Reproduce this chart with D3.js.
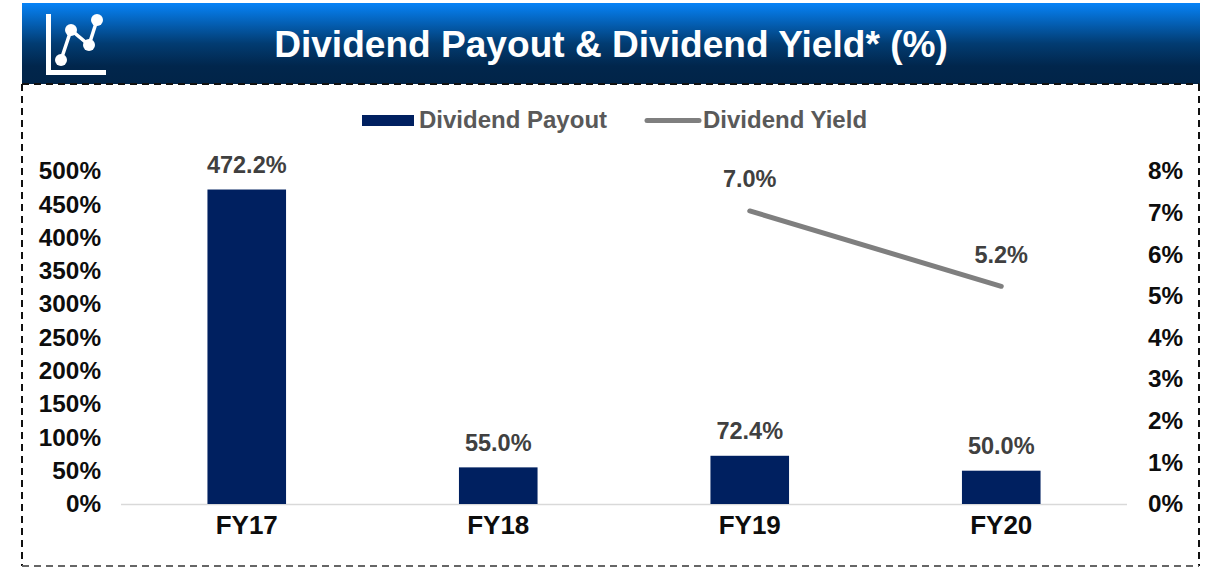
<!DOCTYPE html>
<html><head><meta charset="utf-8">
<script src="https://cdn.jsdelivr.net/npm/d3@7/dist/d3.min.js"></script>
<style>html,body{margin:0;padding:0;background:#fff}svg{display:block}text{font-family:"Liberation Sans",Arial,sans-serif;font-weight:700}</style>
</head><body><svg id="c" width="1207" height="567"></svg>
<script>
const title = "Dividend Payout & Dividend Yield* (%)";
const categories = ["FY17","FY18","FY19","FY20"];
const payout = [472.2,55.0,72.4,50.0];
const yieldVals = [null,null,7.04,5.23];
const leftTicks = [0,50,100,150,200,250,300,350,400,450,500];
const rightTicks = [0,1,2,3,4,5,6,7,8];
const iconPts = [[61,60],[71,30],[89,45],[97,20]];

const svg = d3.select("#c");
const defs = svg.append("defs");
const g = defs.append("linearGradient").attr("id","hdr").attr("x1",0).attr("x2",0).attr("y1",0).attr("y2",1);
[[0,"#0683f7"],[0.5,"#023c72"],[0.78,"#01264c"],[1,"#012448"]].forEach(s=>g.append("stop").attr("offset",s[0]).attr("stop-color",s[1]));

svg.append("rect").attr("x",22).attr("y",3).attr("width",1178).attr("height",81).attr("fill","url(#hdr)");
svg.append("text").attr("x",611).attr("y",57).attr("text-anchor","middle").attr("font-size",37.1).attr("fill","#fff").text(title);

// icon
svg.append("path").attr("d","M48.5 14V72.5H106").attr("fill","none").attr("stroke","#fff").attr("stroke-width",5);
svg.append("path").attr("d",d3.line()(iconPts)).attr("fill","none").attr("stroke","#fff").attr("stroke-width",3.5);
svg.selectAll(".ic").data(iconPts).join("circle").attr("cx",d=>d[0]).attr("cy",d=>d[1]).attr("r",6).attr("fill","#fff");

// dashed frame
const dash = svg.append("g").attr("fill","none").attr("stroke-width",2).attr("stroke-dasharray","7 5");
dash.append("path").attr("d","M22 84H1199").attr("stroke","#111");
dash.append("path").attr("d","M22 84V566").attr("stroke","#111");
dash.append("path").attr("d","M1199 84V566").attr("stroke","#111");
dash.append("path").attr("d","M22 566H1199").attr("stroke","#666");

// scales
const x = d3.scaleBand().domain(categories).range([121,1127]).paddingInner(0.6875).paddingOuter(0.34375);
const yL = d3.scaleLinear().domain([0,500]).range([504,171]);
const yR = d3.scaleLinear().domain([0,8]).range([504,171]);
const cx = c => x(c)+x.bandwidth()/2;

// baseline
svg.append("line").attr("x1",121).attr("x2",1127).attr("y1",504.5).attr("y2",504.5).attr("stroke","#d9d9d9").attr("stroke-width",1.5);

// bars
svg.selectAll(".bar").data(payout).join("rect").attr("class","bar")
  .attr("x",(d,i)=>x(categories[i])).attr("width",x.bandwidth())
  .attr("y",d=>yL(d)).attr("height",d=>yL(0)-yL(d)).attr("fill","#002060");

// line
const pts = categories.map((c,i)=>({c,v:yieldVals[i]}));
svg.append("path").datum(pts)
  .attr("d",d3.line().defined(d=>d.v!=null).x(d=>cx(d.c)).y(d=>yR(d.v)))
  .attr("fill","none").attr("stroke","#7f7f7f").attr("stroke-width",5).attr("stroke-linecap","round");

// data labels
svg.selectAll(".bl").data(payout).join("text").attr("class","bl")
  .attr("x",(d,i)=>cx(categories[i])).attr("y",d=>yL(d)-16.5).attr("text-anchor","middle")
  .attr("font-size",23.5).attr("fill","#404040").text(d=>d.toFixed(1)+"%");
svg.selectAll(".ll").data(pts.filter(d=>d.v!=null)).join("text").attr("class","ll")
  .attr("x",d=>cx(d.c)).attr("y",d=>yR(d.v)-23.5).attr("text-anchor","middle")
  .attr("font-size",23.5).attr("fill","#404040").text(d=>d.v.toFixed(1)+"%");

// axes
const styleAxis = s => { s.select(".domain").remove(); s.selectAll(".tick line").remove();
  s.selectAll("text").attr("font-size",24.3).attr("fill","#0d0d0d"); };
svg.append("g").attr("transform","translate(101,0)")
  .call(d3.axisLeft(yL).tickValues(leftTicks).tickFormat(d=>d+"%").tickSize(0).tickPadding(0)).call(styleAxis);
svg.append("g").attr("transform","translate(1148,0)")
  .call(d3.axisRight(yR).tickValues(rightTicks).tickFormat(d=>d+"%").tickSize(0).tickPadding(0)).call(styleAxis);
svg.append("g").attr("transform","translate(0,516)")
  .call(d3.axisBottom(x).tickSize(0).tickPadding(0)).call(styleAxis)
  .selectAll("text").attr("font-size",26);
svg.selectAll("g .tick text").attr("font-family",'"Liberation Sans",Arial,sans-serif');

// legend
svg.append("rect").attr("x",362).attr("y",115).attr("width",52).attr("height",11).attr("fill","#002060");
svg.append("text").attr("x",419).attr("y",128).attr("font-size",24).attr("fill","#595959").text("Dividend Payout");
svg.append("line").attr("x1",647).attr("x2",699).attr("y1",120.5).attr("y2",120.5).attr("stroke","#7f7f7f").attr("stroke-width",5).attr("stroke-linecap","round");
svg.append("text").attr("x",703).attr("y",128).attr("font-size",24).attr("fill","#595959").text("Dividend Yield");
</script></body></html>
